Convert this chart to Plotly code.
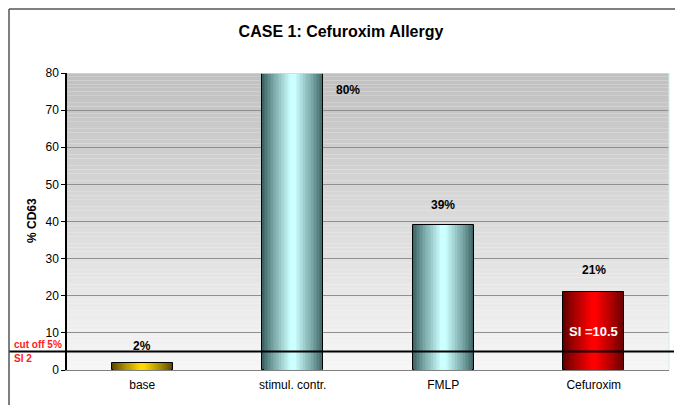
import plotly.graph_objects as go
import numpy as np

categories = ["base", "stimul. contr.", "FMLP", "Cefuroxim"]
values = [2, 80, 39, 21]
value_labels = ["2%", "80%", "39%", "21%"]
cutoff = 5
si_text = "SI =10.5"
yticks = [0, 10, 20, 30, 40, 50, 60, 70, 80]

edge_cols = [(90, 70, 0), (60, 100, 100), (60, 100, 100), (100, 0, 0)]
center_cols = [(255, 215, 0), (204, 255, 255), (204, 255, 255), (255, 0, 0)]

FONT = "Liberation Sans, Arial, sans-serif"
fig = go.Figure()

# page body offset (8px) compensation
OFF = 8
FW, FH = 683 - OFF, 405 - OFF
L, T, R, B = 67 - OFF, 73 - OFF, 14, 35
PW = FW - L - R
PH = FH - T - B

def px2paper_x(px):
    return (px - OFF - L) / PW

def px2paper_y(py):
    return 1 - (py - OFF - T) / PH

# gradient bars via overlaid bars of decreasing width
W = 0.405
N = 20
for k in range(N):
    t = k / N
    w = W * (1 - t)
    f = min(t / 0.9, 1.0) ** 0.9
    cols = []
    for e, c in zip(edge_cols, center_cols):
        r, g, b = [int(e[i] + (c[i] - e[i]) * f) for i in range(3)]
        cols.append(f"rgb({r},{g},{b})")
    fig.add_trace(go.Bar(
        x=categories, y=values, width=w,
        marker=dict(color=cols,
                    line=dict(color="black" if k == 0 else "rgba(0,0,0,0)",
                              width=1 if k == 0 else 0)),
        showlegend=False, hoverinfo="skip"))

# background gradient (drawn below gridlines)
shapes = []
NS = 80
for i in range(NS):
    y0 = 80 * i / NS
    y1 = 80 * (i + 1) / NS
    frac = (i + 0.5) / NS
    v = int(round(246 - (246 - 192) * frac))
    shapes.append(dict(type="rect", xref="paper", yref="y", x0=0, x1=1, y0=y0, y1=y1,
                       fillcolor=f"rgb({v},{v},{v})", line=dict(width=0), layer="below"))
# plot area top / right border (light cyan)
shapes.append(dict(type="line", xref="paper", yref="y", x0=0, x1=1, y0=80, y1=80,
                   line=dict(color="#a8e8e8", width=1.5), layer="above"))
shapes.append(dict(type="line", xref="paper", yref="y", x0=1, x1=1, y0=0, y1=80,
                   line=dict(color="#c8f0f0", width=1), layer="above"))
# cut-off line
shapes.append(dict(type="line", xref="paper", yref="y", x0=px2paper_x(9), x1=px2paper_x(674),
                   y0=cutoff, y1=cutoff, line=dict(color="black", width=2), layer="above"))
# outer frame (top and left)
shapes.append(dict(type="line", xref="paper", yref="paper", x0=px2paper_x(9), x1=px2paper_x(683),
                   y0=px2paper_y(9), y1=px2paper_y(9), line=dict(color="#555555", width=1.5), layer="above"))
shapes.append(dict(type="line", xref="paper", yref="paper", x0=px2paper_x(9), x1=px2paper_x(9),
                   y0=px2paper_y(9), y1=px2paper_y(405), line=dict(color="#555555", width=1.5), layer="above"))

annotations = []
label_shift = [17, 0, 20, 22]
for i, (c, v, lab) in enumerate(zip(categories, values, value_labels)):
    if i == 1:
        annotations.append(dict(x=c, y=v, xref="x", yref="y", text=f"<b>{lab}</b>", showarrow=False,
                                xshift=55, yshift=-17, font=dict(family=FONT, size=12, color="black")))
    else:
        annotations.append(dict(x=c, y=v, xref="x", yref="y", text=f"<b>{lab}</b>", showarrow=False,
                                yshift=label_shift[i],
                                font=dict(family=FONT, size=12, color="black")))
annotations.append(dict(x=categories[3], y=10.5, xref="x", yref="y", text=f"<b>{si_text}</b>",
                        showarrow=False, font=dict(family=FONT, size=13, color="white")))
annotations.append(dict(x=px2paper_x(12), y=cutoff, xref="paper", yref="y", text="<b>cut off 5%</b>",
                        xanchor="left", yanchor="bottom", showarrow=False, yshift=-1,
                        font=dict(family=FONT, size=10, color="#ff2020")))
annotations.append(dict(x=px2paper_x(12), y=cutoff, xref="paper", yref="y", text="<b>SI 2</b>",
                        xanchor="left", yanchor="top", showarrow=False, yshift=0,
                        font=dict(family=FONT, size=10, color="#ff2020")))
annotations.append(dict(x=px2paper_x(23), y=px2paper_y(220), xref="paper", yref="paper",
                        text="<b>% CD63</b>", textangle=-90, showarrow=False,
                        font=dict(family=FONT, size=12, color="black")))

fig.update_layout(
    width=FW, height=FH,
    margin=dict(l=L, r=R, t=T, b=B),
    paper_bgcolor="white", plot_bgcolor="white",
    barmode="overlay", bargap=0,
    title=dict(text="<b>CASE 1: Cefuroxim Allergy</b>", x=px2paper_x(341), xref="paper",
               xanchor="center", y=1 - (31 - OFF) / FH, yanchor="middle",
               font=dict(family=FONT, size=16, color="black")),
    shapes=shapes, annotations=annotations,
    xaxis=dict(type="category", showgrid=False, showline=True, linecolor="#808080", linewidth=1,
               tickfont=dict(family=FONT, size=12, color="black"), ticks="", zeroline=False,
               ticklabelstandoff=4),
    yaxis=dict(range=[0, 80], tickvals=yticks, showgrid=True, gridcolor="#909090", gridwidth=1,
               showline=True, linecolor="black", linewidth=1.5, ticks="outside", ticklen=4,
               tickcolor="black", zeroline=False,
               tickfont=dict(family=FONT, size=12, color="black")),
    font=dict(family=FONT),
)

fig.write_html("out.html")
